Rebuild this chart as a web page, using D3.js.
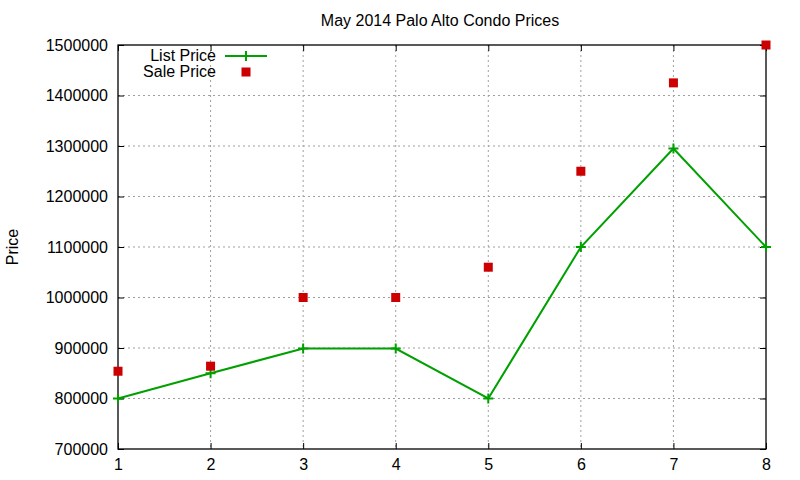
<!DOCTYPE html>
<html>
<head>
<meta charset="utf-8">
<script src="https://cdn.jsdelivr.net/npm/d3@7"></script>
<style>
  body { margin: 0; background: #fff; }
  text { font-family: "Liberation Sans", Arial, sans-serif; fill: #000; }
</style>
</head>
<body>
<script>
// chart data
var months = [1, 2, 3, 4, 5, 6, 7, 8];
var listPrice = [800000, 850000, 899000, 899000, 800000, 1100000, 1295000, 1100000];
var salePrice = [854000, 864000, 1000000, 1000000, 1060000, 1250000, 1425000, 1500000];
var yTicks = [700000, 800000, 900000, 1000000, 1100000, 1200000, 1300000, 1400000, 1500000];

var svgWidth = 800, svgHeight = 480;
var margin = { top: 45, right: 34, bottom: 31, left: 118 };
var chartWidth = svgWidth - margin.left - margin.right;
var chartHeight = svgHeight - margin.top - margin.bottom;

var svg = d3.select("body").append("svg")
  .attr("width", svgWidth)
  .attr("height", svgHeight);

var chartGroup = svg.append("g")
  .attr("transform", `translate(${margin.left}, ${margin.top})`);

var x = d3.scaleLinear().domain([1, 8]).range([0, chartWidth]);
var y = d3.scaleLinear().domain([700000, 1500000]).range([chartHeight, 0]);

// dotted grid
chartGroup.selectAll(".vgrid")
  .data(months.slice(1, -1))
  .enter().append("line")
  .attr("x1", d => x(d)).attr("x2", d => x(d))
  .attr("y1", 0).attr("y2", chartHeight)
  .attr("stroke", "#a0a0a0").attr("stroke-dasharray", "2,3");

chartGroup.selectAll(".hgrid")
  .data(yTicks.slice(1, -1))
  .enter().append("line")
  .attr("x1", 0).attr("x2", chartWidth)
  .attr("y1", d => y(d)).attr("y2", d => y(d))
  .attr("stroke", "#a0a0a0").attr("stroke-dasharray", "2,3");

// axes, ticks pointing inwards on all four sides like gnuplot
var bottomAxis = d3.axisBottom(x).tickValues(months).tickSize(-6).tickPadding(10).tickFormat(d3.format("d"));
var topAxis = d3.axisTop(x).tickValues(months).tickSize(-6).tickFormat("");
var leftAxis = d3.axisLeft(y).tickValues(yTicks).tickSize(-6).tickPadding(10).tickFormat(d3.format("d"));
var rightAxis = d3.axisRight(y).tickValues(yTicks).tickSize(-6).tickFormat("");

function styleAxis(g) {
  g.selectAll("line").attr("stroke", "#000");
  g.selectAll("text").attr("font-size", 16).style("font-family", "Liberation Sans, Arial, sans-serif");
}

chartGroup.append("g").attr("transform", `translate(0, ${chartHeight})`).call(bottomAxis).call(styleAxis);
chartGroup.append("g").call(topAxis).call(styleAxis);
chartGroup.append("g").call(leftAxis).call(styleAxis);
chartGroup.append("g").attr("transform", `translate(${chartWidth}, 0)`).call(rightAxis).call(styleAxis);
chartGroup.selectAll(".domain").attr("d", null);
chartGroup.append("rect")
  .attr("width", chartWidth).attr("height", chartHeight)
  .attr("fill", "none").attr("stroke", "#000").attr("stroke-width", 1.3);

// list price line with + markers
var line = d3.line()
  .x((d, i) => x(months[i]))
  .y(d => y(d));

chartGroup.append("path")
  .datum(listPrice)
  .attr("d", line)
  .attr("fill", "none")
  .attr("stroke", "#00a000")
  .attr("stroke-width", 2);

chartGroup.selectAll(".plus")
  .data(listPrice)
  .enter().append("path")
  .attr("d", "M-5,0H5M0,-5V5")
  .attr("transform", (d, i) => `translate(${x(months[i])}, ${y(d)})`)
  .attr("stroke", "#00a000")
  .attr("stroke-width", 2);

// sale price squares
chartGroup.selectAll(".sq")
  .data(salePrice)
  .enter().append("rect")
  .attr("x", (d, i) => x(months[i]) - 4.5)
  .attr("y", d => y(d) - 4.5)
  .attr("width", 9).attr("height", 9)
  .attr("fill", "#cc0000");

// legend
var legend = svg.append("g");
legend.append("text").attr("x", 216).attr("y", 61).attr("text-anchor", "end")
  .attr("font-size", 16).text("List Price");
legend.append("line").attr("x1", 225).attr("x2", 267).attr("y1", 56).attr("y2", 56)
  .attr("stroke", "#00a000").attr("stroke-width", 2);
legend.append("path").attr("d", "M-5,0H5M0,-5V5")
  .attr("transform", "translate(246, 56)")
  .attr("stroke", "#00a000").attr("stroke-width", 2);
legend.append("text").attr("x", 216).attr("y", 77).attr("text-anchor", "end")
  .attr("font-size", 16).text("Sale Price");
legend.append("rect").attr("x", 241.5).attr("y", 67.5).attr("width", 9).attr("height", 9)
  .attr("fill", "#cc0000");

// title and y label
svg.append("text").attr("x", 440).attr("y", 26).attr("text-anchor", "middle")
  .attr("font-size", 16).text("May 2014 Palo Alto Condo Prices");
svg.append("text")
  .attr("transform", "translate(18, 247) rotate(-90)")
  .attr("text-anchor", "middle")
  .attr("font-size", 16).text("Price");
</script>
</body>
</html>
